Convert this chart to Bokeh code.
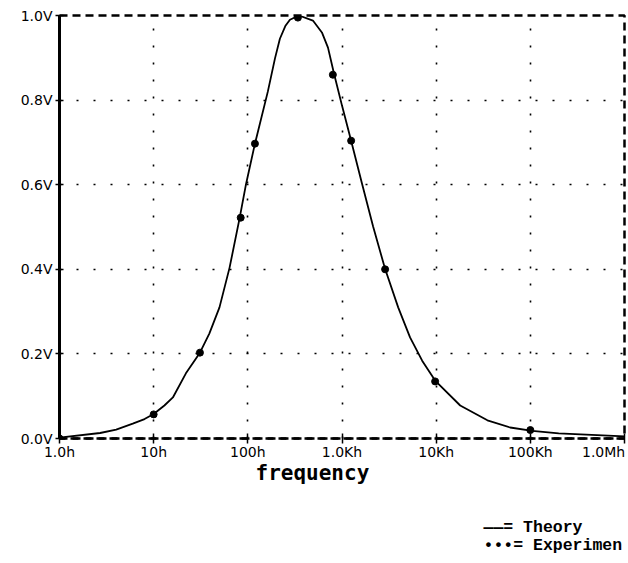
from bokeh.plotting import figure
from bokeh.models import Range1d, FixedTicker, PrintfTickFormatter, LogAxis, Title
from bokeh.embed import file_html
from bokeh.resources import INLINE

# ---- data ----
freq_theory = [1, 2.7, 4.0, 6.0, 8.0, 10, 13, 16, 22, 31, 39, 50, 64, 82, 95, 119,
               163, 194, 219, 250, 280, 349, 491, 612, 710, 822, 1000, 1250, 1630,
               2140, 2860, 3950, 5280, 7100, 9750, 18000, 35000, 61000, 105000,
               200000, 1000000]
volt_theory = [0.002, 0.013, 0.021, 0.035, 0.046, 0.058, 0.078, 0.097, 0.154, 0.203,
               0.248, 0.310, 0.404, 0.522, 0.598, 0.697, 0.82, 0.898, 0.945, 0.975,
               0.99, 1.0, 0.988, 0.96, 0.924, 0.863, 0.787, 0.704, 0.603, 0.501,
               0.402, 0.310, 0.239, 0.184, 0.137, 0.078, 0.043, 0.026, 0.018, 0.012,
               0.005]

freq_exp = [1, 10, 31, 84, 119, 340, 800, 1250, 2870, 9750, 100000]
volt_exp = [0.0, 0.057, 0.203, 0.522, 0.697, 0.995, 0.86, 0.704, 0.40, 0.135, 0.02]

x_ticks = [1, 10, 100, 1000, 10000, 100000, 1000000]
x_tick_labels = ["1.0h", "10h", "100h", "1.0Kh", "10Kh", "100Kh", "1.0Mh"]
y_ticks = [0.0, 0.2, 0.4, 0.6, 0.8, 1.0]
x_title = "frequency"
legend_theory = "——= Theory"
legend_exp = "•••= Experimen"

p = figure(width=626, height=561, x_axis_type="log",
           x_range=Range1d(1, 1e6), y_range=Range1d(0, 1),
           output_backend="svg", toolbar_location=None, title=None,
           min_border_left=59, min_border_right=2, min_border_top=15,
           min_border_bottom=123)
p.background_fill_color = "white"
p.border_fill_color = "white"

# outline (dashed frame)
p.outline_line_color = "black"
p.outline_line_width = 2.5
p.outline_line_dash = "8 5"

# grids: dotted
for g in (p.xgrid, p.ygrid):
    g.grid_line_color = "black"
    g.grid_line_dash = "2 15"
    g.grid_line_width = 1.6
p.xgrid.ticker = FixedTicker(ticks=x_ticks)
p.ygrid.ticker = FixedTicker(ticks=y_ticks)

# x axis: ticks only
xa = p.xaxis[0]
xa.ticker = FixedTicker(ticks=x_ticks)
xa.major_label_overrides = {t: "" for t in x_ticks}
xa.major_label_standoff = 0
xa.axis_line_color = "black"
xa.axis_line_width = 2.5
xa.axis_line_dash = "8 5"
xa.major_tick_in = 5
xa.major_tick_out = 5
xa.major_tick_line_width = 1.5
xa.minor_tick_line_color = None

# second x axis: labels only (last label pulled inside the frame)
label_pos = x_ticks[:-1] + [x_ticks[-1] * 0.6]
xl = LogAxis(ticker=FixedTicker(ticks=label_pos),
             major_label_overrides={t: lab for t, lab in zip(label_pos, x_tick_labels)},
             axis_line_color=None, major_tick_line_color=None,
             minor_tick_line_color=None, major_tick_out=0, major_tick_in=0,
             major_label_standoff=0,
             major_label_text_font="DejaVu Sans",
             major_label_text_font_size="14px",
             major_label_text_color="black")
p.add_layout(xl, "below")

# y axis
ya = p.yaxis[0]
ya.ticker = FixedTicker(ticks=y_ticks)
ya.formatter = PrintfTickFormatter(format="%.1fV")
ya.axis_line_color = "black"
ya.axis_line_width = 3
ya.major_tick_in = 4
ya.major_tick_out = 4
ya.major_tick_line_width = 1.5
ya.minor_tick_line_color = None
ya.major_label_standoff = 3
ya.major_label_text_font = "DejaVu Sans"
ya.major_label_text_font_size = "14px"
ya.major_label_text_color = "black"

# theory curve and experimental points
p.line(freq_theory, volt_theory, line_color="black", line_width=1.8)
p.scatter(freq_exp, volt_exp, size=7, color="black")

# axis title and legend lines as titles in the bottom panel
p.add_layout(Title(text=x_title, align="left", offset=196, standoff=-8,
                   text_font="DejaVu Sans Mono", text_font_style="bold",
                   text_font_size="21px", text_color="black"), "below")
p.add_layout(Title(text=" ", align="left", offset=0, standoff=32,
                   text_font_size="1px", text_color="white"), "below")
p.add_layout(Title(text=legend_theory, align="left", offset=424, standoff=0,
                   text_font="Liberation Mono", text_font_style="bold",
                   text_font_size="16.5px", text_color="black"), "below")
p.add_layout(Title(text=legend_exp, align="left", offset=424, standoff=-6,
                   text_font="Liberation Mono", text_font_style="bold",
                   text_font_size="16.5px", text_color="black"), "below")

open("out.html", "w").write(file_html(p, INLINE))
